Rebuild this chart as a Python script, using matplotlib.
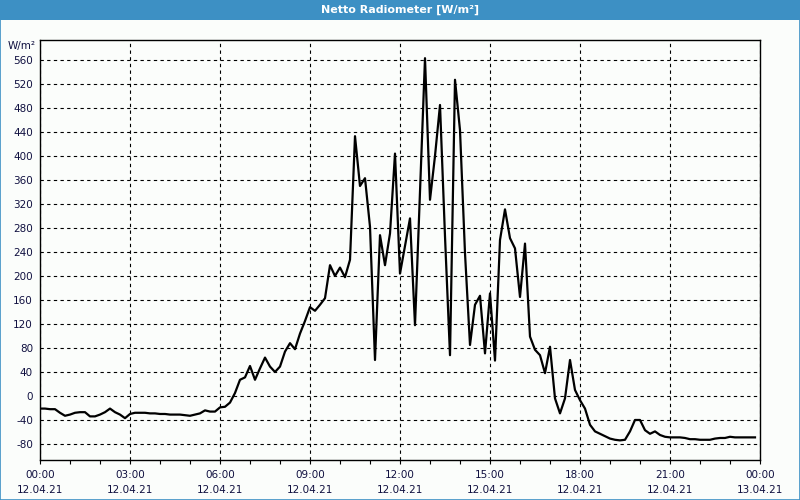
import numpy as np
import matplotlib
import matplotlib.pyplot as plt
from matplotlib.patches import Rectangle

matplotlib.use("Agg")

# ── Data: netto radiation, 10 minute samples from 12.04.21 00:00 ──────────────
values = [
    -21, -21, -22, -22, -28, -33, -31, -28, -27, -27,
    -34, -34, -31, -27, -21, -27, -31, -37, -30, -28,
    -28, -28, -29, -29, -30, -30, -31, -31, -31, -32,
    -33, -31, -29, -24, -26, -26, -19, -18, -11, 5,
    27, 31, 50, 27, 46, 64, 49, 40, 49, 74,
    88, 78, 104, 125, 148, 142, 152, 163, 218, 200,
    214, 198, 227, 433, 350, 363, 282, 60, 268, 218,
    271, 404, 204, 250, 296, 118, 340, 563, 327, 400,
    485, 266, 68, 527, 443, 238, 85, 152, 167, 71,
    171, 59, 260, 311, 263, 246, 165, 254, 99, 77,
    68, 38, 82, -4, -29, -4, 60, 10, -7, -21,
    -48, -59, -63, -67, -71, -73, -74, -73, -59, -40,
    -40, -57, -63, -59, -65, -68, -69, -69, -69, -70,
    -72, -72, -73, -73, -73, -71, -70, -70, -68, -69,
    -69, -69, -69, -69,
]
hours = np.arange(len(values)) / 6.0

y_ticks = list(range(-80, 561, 40))
x_ticks = [0, 3, 6, 9, 12, 15, 18, 21, 24]
x_labels = ["00:00\n12.04.21", "03:00\n12.04.21", "06:00\n12.04.21",
            "09:00\n12.04.21", "12:00\n12.04.21", "15:00\n12.04.21",
            "18:00\n12.04.21", "21:00\n12.04.21", "00:00\n13.04.21"]

BG = "#fbfdfb"
BLUE = "#3d90c4"
TXT = "#101040"

fig = plt.figure(figsize=(8, 5), dpi=100, facecolor=BG)

# title bar and window border
fig.patches.append(Rectangle((0, 0.96), 1, 0.04, transform=fig.transFigure,
                             facecolor=BLUE, edgecolor="none"))
fig.patches.append(Rectangle((0.0006, 0.001), 0.9988, 0.998, transform=fig.transFigure,
                             facecolor="none", edgecolor=BLUE, linewidth=1.2))
fig.text(0.5, 0.98, "Netto Radiometer [W/m²]", color="white", fontsize=8,
         fontweight="bold", ha="center", va="center")

ax = fig.add_axes([0.05, 0.08, 0.90, 0.84], facecolor=BG)
ax.plot(hours, values, color="black", linewidth=1.6)

ax.set_xlim(0, 24)
ax.set_ylim(-106.7, 593.3)
ax.set_yticks(y_ticks)
ax.set_yticklabels([str(v) for v in y_ticks], fontsize=7.5, color=TXT)
ax.set_xticks(x_ticks)
ax.set_xticklabels(x_labels, fontsize=7.5, linespacing=1.6, color=TXT)
ax.set_xticks(np.arange(0, 25, 1), minor=True)
ax.tick_params(axis="y", length=0, pad=5)
ax.tick_params(axis="x", which="both", length=3, width=0.8, direction="out", pad=4.5)
ax.grid(True, which="major", color="black", linestyle=(0, (3, 3)), linewidth=0.8)

for s in ax.spines.values():
    s.set_linewidth(1.0)
    s.set_color("black")

fig.text(0.045, 0.908, "W/m²", fontsize=7.5, ha="right", va="center", color=TXT)

fig.savefig("out.png", dpi=100, facecolor=BG)
